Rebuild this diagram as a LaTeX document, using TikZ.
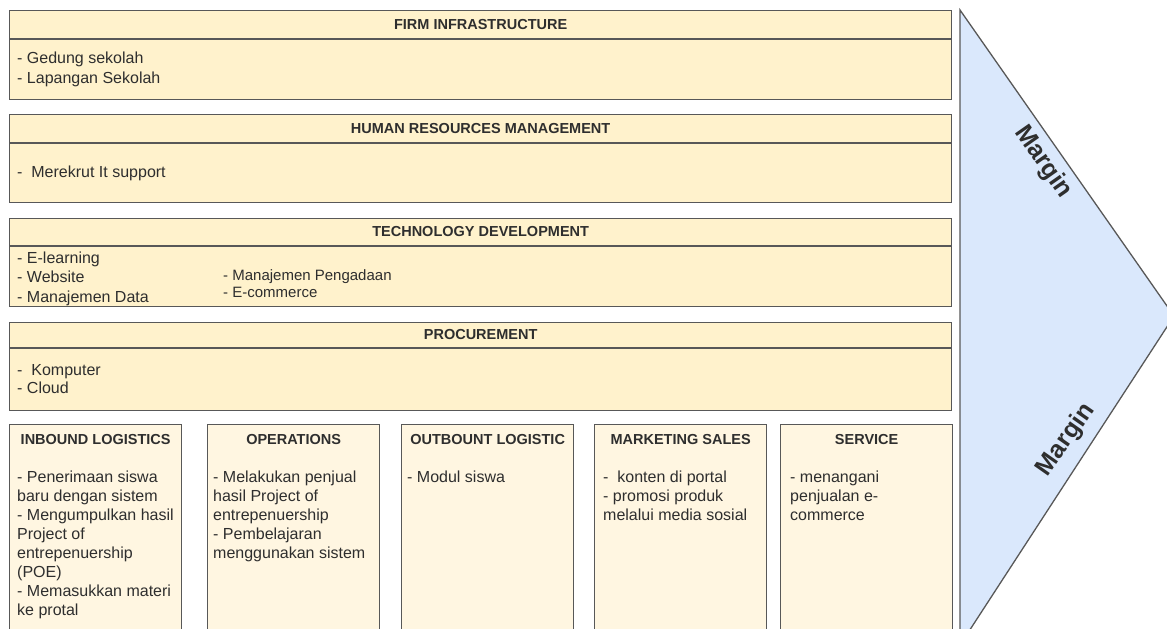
\documentclass[tikz,border=0pt]{standalone}
\usepackage{fontspec}
\setmainfont{Liberation Sans}
\definecolor{panelfill}{HTML}{FFF2CC}
\definecolor{actfill}{HTML}{FFF6E1}
\definecolor{marginfill}{HTML}{DAE8FC}
\definecolor{panelline}{HTML}{585858}
\definecolor{itemtext}{HTML}{2E2E2E}
\begin{document}
\begin{tikzpicture}[x=1pt,y=1pt]
\tikzstyle{every node}+=[inner sep=0pt,text=itemtext]
\tikzstyle{panel}=[draw=panelline,line width=1.3pt,fill=panelfill,anchor=north west,minimum width=942pt,minimum height=88pt]
\tikzstyle{act}=[draw=panelline,line width=1.3pt,fill=actfill,anchor=north west,minimum width=172pt,minimum height=230pt]
\tikzstyle{head}=[font=\bfseries\fontsize{14.5}{17}\selectfont]
\tikzstyle{item}=[anchor=base west,align=left,font=\fontsize{16}{19.1}\selectfont]
\tikzstyle{margintext}=[font=\bfseries\fontsize{25}{29}\selectfont]
\useasboundingbox (0,0) rectangle (1167,-629);
% margin arrow
\draw [draw=panelline,line width=1.3pt,fill=marginfill] (960,-10) -- (1174,-316) -- (960,-645) -- cycle;
\node [margintext,rotate=-55] (margintop) at (1043,-162) {Margin};
\node [margintext,rotate=55] (marginbot) at (1066,-440) {Margin};
% support activities (items anchored at the baseline of their last line)
\node [panel,minimum height=89pt] (infra) at (9,-10) {};
\draw [panelline,line width=1.3pt] ([yshift=-29pt]infra.north west) -- ([yshift=-29pt]infra.north east);
\node [head] (infrahead) at ([yshift=-14.5pt]infra.north) {FIRM INFRASTRUCTURE};
\node [item,font=\fontsize{16}{20}\selectfont] (infraitems) at (17,-83) {- Gedung sekolah\\- Lapangan Sekolah};
\node [panel] (hrm) at (9,-114) {};
\draw [panelline,line width=1.3pt] ([yshift=-29pt]hrm.north west) -- ([yshift=-29pt]hrm.north east);
\node [head] (hrmhead) at ([yshift=-14.5pt]hrm.north) {HUMAN RESOURCES MANAGEMENT};
\node [item] (hrmitems) at (17,-177) {-\ \ Merekrut It support};
\node [panel] (techdev) at (9,-218) {};
\draw [panelline,line width=1.3pt] ([yshift=-28pt]techdev.north west) -- ([yshift=-28pt]techdev.north east);
\node [head] (techdevhead) at ([yshift=-14pt]techdev.north) {TECHNOLOGY DEVELOPMENT};
\node [item,font=\fontsize{16}{19.5}\selectfont] (techdevleft) at (17,-302) {- E-learning\\- Website\\- Manajemen Data};
\node [item,font=\fontsize{15}{17}\selectfont] (techdevright) at (223,-297) {- Manajemen Pengadaan\\- E-commerce};
\node [panel] (procure) at (9,-322) {};
\draw [panelline,line width=1.3pt] ([yshift=-26pt]procure.north west) -- ([yshift=-26pt]procure.north east);
\node [head] (procurehead) at ([yshift=-13pt]procure.north) {PROCUREMENT};
\node [item,font=\fontsize{16}{18.5}\selectfont] (procureitems) at (17,-393.5) {-\ \ Komputer\\- Cloud};
% primary activities
\node [act] (inbound) at (9,-424) {};
\node [head] (inboundhead) at ([yshift=-16pt]inbound.north) {INBOUND LOGISTICS};
\node [item] (inbounditems) at (17,-615.7) {- Penerimaan siswa\\baru dengan sistem\\- Mengumpulkan hasil\\Project of\\entrepenuership\\(POE)\\- Memasukkan materi\\ke protal};
\node [act] (operations) at (207,-424) {};
\node [head] (operationshead) at ([yshift=-16pt]operations.north) {OPERATIONS};
\node [item] (operationsitems) at (213,-558.4) {- Melakukan penjual\\hasil Project of\\entrepenuership\\- Pembelajaran\\menggunakan sistem};
\node [act] (outbound) at (401,-424) {};
\node [head] (outboundhead) at ([yshift=-16pt]outbound.north) {OUTBOUNT LOGISTIC};
\node [item] (outbounditems) at (407,-482) {- Modul siswa};
\node [act] (marketing) at (594,-424) {};
\node [head] (marketinghead) at ([yshift=-16pt]marketing.north) {MARKETING SALES};
\node [item] (marketingitems) at (603,-520.2) {-\ \ konten di portal\\- promosi produk\\melalui media sosial};
\node [act] (service) at (780,-424) {};
\node [head] (servicehead) at ([yshift=-16pt]service.north) {SERVICE};
\node [item] (serviceitems) at (790,-520.2) {- menangani\\penjualan e-\\commerce};
\end{tikzpicture}
\end{document}
